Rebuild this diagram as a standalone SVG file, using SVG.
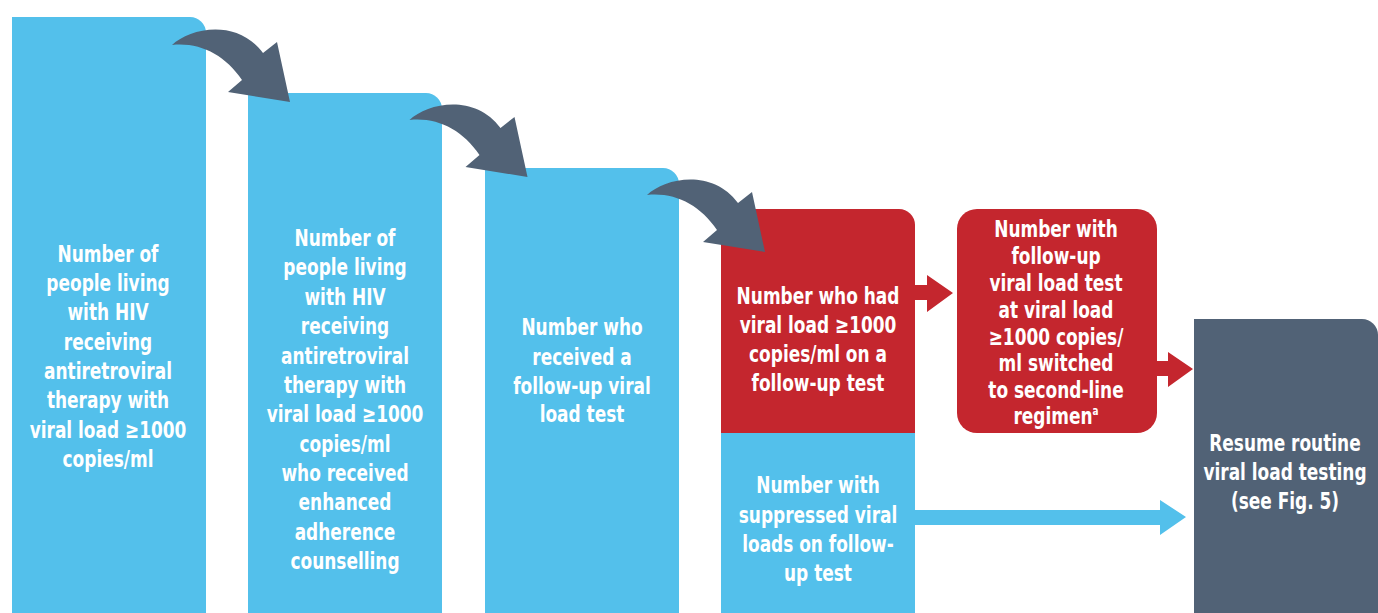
<svg xmlns="http://www.w3.org/2000/svg" width="1378" height="613" viewBox="0 0 1378 613">
<style>
.blue{fill:#53C0EB}.red{fill:#C4262E}.gray{fill:#516276}
text{font-family:"Liberation Sans Narrow","DejaVu Sans Condensed","Liberation Sans",sans-serif;font-weight:bold;font-size:23px;fill:#fff;text-anchor:middle}
</style>
<defs>
<path id="curve" d="M172,45 C190,28 237,18 263,53 L277,42 L290,102 L228,92 L242,80 C225,55 200,42 172,45 Z" fill="#516276"/>
</defs>
<rect width="1378" height="613" fill="#fff"/>
<g id="n1">
<path class="blue" d="M12,17 H190 A16,16 0 0 1 206,33 V613 H12 Z"/>
<g transform="translate(108,0) scale(0.82,1)">
<text x="0" y="262">Number of</text><text x="0" y="291">people living</text><text x="0" y="320">with HIV</text><text x="0" y="350">receiving</text><text x="0" y="379">antiretroviral</text><text x="0" y="408">therapy with</text><text x="0" y="438">viral load ≥1000</text><text x="0" y="467">copies/ml</text>
</g>
</g>
<g id="n2">
<path class="blue" d="M248,93 H426 A16,16 0 0 1 442,109 V613 H248 Z"/>
<g transform="translate(345,0) scale(0.82,1)">
<text x="0" y="246">Number of</text><text x="0" y="275">people living</text><text x="0" y="305">with HIV</text><text x="0" y="334">receiving</text><text x="0" y="364">antiretroviral</text><text x="0" y="393">therapy with</text><text x="0" y="422">viral load ≥1000</text><text x="0" y="452">copies/ml</text><text x="0" y="481">who received</text><text x="0" y="510">enhanced</text><text x="0" y="540">adherence</text><text x="0" y="569">counselling</text>
</g>
</g>
<g id="n3">
<path class="blue" d="M485,168 H663 A16,16 0 0 1 679,184 V613 H485 Z"/>
<g transform="translate(582,0) scale(0.82,1)">
<text x="0" y="335">Number who</text><text x="0" y="365">received a</text><text x="0" y="394">follow-up viral</text><text x="0" y="422">load test</text>
</g>
</g>
<g id="n4">
<path class="red" d="M721,209 H899 A16,16 0 0 1 915,225 V433 H721 Z"/>
<rect class="blue" x="721" y="433" width="194" height="180"/>
<g transform="translate(818,0) scale(0.82,1)">
<text x="0" y="304">Number who had</text><text x="0" y="333">viral load ≥1000</text><text x="0" y="362">copies/ml on a</text><text x="0" y="391">follow-up test</text>
<text x="0" y="493">Number with</text><text x="0" y="523">suppressed viral</text><text x="0" y="552">loads on follow-</text><text x="0" y="581">up test</text>
</g>
</g>
<g id="n5">
<rect class="red" x="957" y="209" width="200" height="224" rx="20"/>
<g transform="translate(1056,0) scale(0.82,1)">
<text x="0" y="237">Number with</text><text x="0" y="264">follow-up</text><text x="0" y="291">viral load test</text><text x="0" y="318">at viral load</text><text x="0" y="345">≥1000 copies/</text><text x="0" y="371">ml switched</text><text x="0" y="398">to second-line</text><text x="0" y="424">regimen<tspan font-size="12" dy="-9">a</tspan></text>
</g>
</g>
<g id="n6">
<path class="gray" d="M1194,319 H1362 A16,16 0 0 1 1378,335 V613 H1194 Z"/>
<g transform="translate(1285,0) scale(0.82,1)">
<text x="0" y="451">Resume routine</text><text x="0" y="480">viral load testing</text><text x="0" y="509">(see Fig. 5)</text>
</g>
</g>
<g id="connectors">
<use href="#curve"/>
<use href="#curve" transform="translate(237.5,75)"/>
<use href="#curve" transform="translate(475,150)"/>
<path class="red" d="M915,285 H927 V275 L953,293 L927,312 V300 H915 Z"/>
<path class="red" d="M1157,361 H1168 V352 L1193,369 L1168,387 V376 H1157 Z"/>
<path class="blue" d="M915,510 H1160 V500 L1186,517 L1160,535 V525 H915 Z"/>
</g>
</svg>
